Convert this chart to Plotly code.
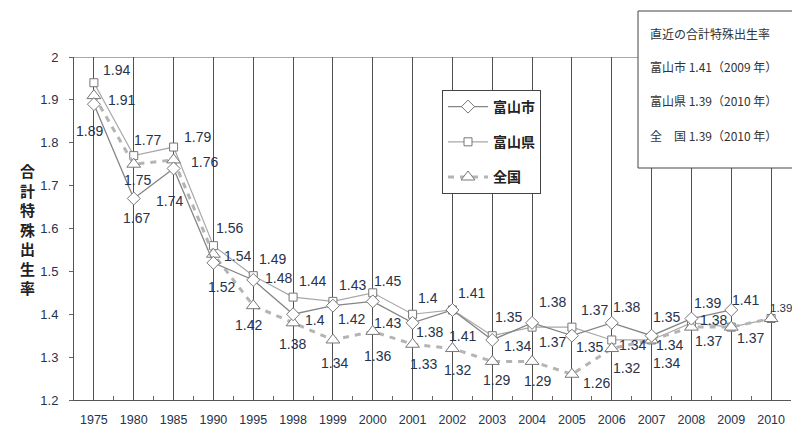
import plotly.graph_objects as go

# Total fertility rate: Toyama City, Toyama Prefecture, Japan
years = ["1975", "1980", "1985", "1990", "1995", "1998", "1999", "2000", "2001",
         "2002", "2003", "2004", "2005", "2006", "2007", "2008", "2009", "2010"]
city = [1.89, 1.67, 1.74, 1.52, 1.48, 1.40, 1.42, 1.43, 1.38,
        1.41, 1.34, 1.38, 1.35, 1.38, 1.35, 1.39, 1.41, None]
pref = [1.94, 1.77, 1.79, 1.56, 1.49, 1.44, 1.43, 1.45, 1.40,
        1.41, 1.35, 1.37, 1.37, 1.34, 1.34, 1.38, 1.37, 1.39]
nation = [1.91, 1.75, 1.76, 1.54, 1.42, 1.38, 1.34, 1.36, 1.33,
          1.32, 1.29, 1.29, 1.26, 1.32, 1.34, 1.37, 1.37, 1.39]

names = ["富山市", "富山県", "全国"]
y_ticks = [1.2, 1.3, 1.4, 1.5, 1.6, 1.7, 1.8, 1.9, 2.0]
info_lines = ["直近の合計特殊出生率",
              "富山市 1.41（2009 年）",
              "富山県 1.39（2010 年）",
              "全　国 1.39（2010 年）"]

# pixel offsets (dx right, dy down) of each value label from its point
city_off = [(-4, 27), (3, 20), (-4, 33), (8, 24), (25, -2), (22, 6), (19, 13), (15, 22), (17, 9),
            (10, 26), (25, 6), (20, -21), (18, 11), (15, -16), (15, -19), (16, -16), (14, -10), None]
pref_off = [(23, -13), (14, -16), (24, -10), (16, -18), (19, -17), (19, -16), (20, -16), (15, -12), (15, -16),
            (19, -17), (16, -19), (20, 15), (23, -17), (21, 5), (18, 5), (22, -3), None, None]
nat_off = [(28, 4), (4, 16), (31, 2), (24, 2), (-5, 19), (-1, 21), (2, 23), (5, 25), (11, 20),
           (5, 21), (4, 19), (5, 20), (25, 9), (15, 19), (15, 23), (17, 14), (19, 11), (10, -11)]

LABEL_COLOR = "#27324d"
NUM_FONT = "Liberation Sans, Arial, sans-serif"
JP_FONT = "Noto Sans CJK JP, sans-serif"

fig = go.Figure()

fig.add_trace(go.Scatter(
    x=years, y=pref, name=names[1], mode="lines+markers",
    line=dict(color="#a8a8a8", width=1.2),
    marker=dict(symbol="square", size=8, color="white", line=dict(color="#777777", width=1)),
    legendgroup="b", legendrank=2))
fig.add_trace(go.Scatter(
    x=years, y=nation, name=names[2], mode="lines+markers",
    line=dict(color="#b4b4b4", width=3, dash="6px,6px"),
    marker=dict(symbol="triangle-up", size=12, color="white", line=dict(color="#777777", width=1)),
    legendgroup="c", legendrank=3))
fig.add_trace(go.Scatter(
    x=years, y=city, name=names[0], mode="lines+markers",
    line=dict(color="#858585", width=1.3),
    marker=dict(symbol="diamond", size=10, color="white", line=dict(color="#777777", width=1)),
    legendgroup="a", legendrank=1))

# invisible trace carrying the boundary tick axis
fig.add_trace(go.Scatter(x=years, y=[None] * len(years), xaxis="x2", showlegend=False,
                         hoverinfo="skip", mode="markers"))

annotations = []
for vals, offs in ((city, city_off), (pref, pref_off), (nation, nat_off)):
    for idx, (yr, v, off) in enumerate(zip(years, vals, offs)):
        if v is None or off is None:
            continue
        size = 11.5 if yr == "2010" else 14
        # category position given by index (numeric-looking strings would be read as indices)
        annotations.append(dict(
            x=idx, y=v, xref="x", yref="y", text=f"{v:g}", showarrow=False,
            xshift=off[0], yshift=-off[1],
            font=dict(family=NUM_FONT, size=size, color=LABEL_COLOR)))

# vertical axis title, one character per line
annotations.append(dict(
    x=-0.078, y=0.5, xref="paper", yref="paper", showarrow=False,
    text="<br>".join("合計特殊出生率"),
    font=dict(family=JP_FONT, size=15, color="#222222", weight="bold")))

# info box text
info_y = [33, 66, 100, 135]
for line, py in zip(info_lines, info_y):
    annotations.append(dict(
        x=(648 - 74) / 717, y=(400 - py) / 343, xref="paper", yref="paper",
        xanchor="left", yanchor="middle", showarrow=False, text=line,
        font=dict(family=JP_FONT, size=12, color="#333333")))

shapes = [
    # top border of the plot
    dict(type="line", xref="paper", yref="y", x0=0, x1=1, y0=2.0, y1=2.0,
         line=dict(color="#555555", width=1), layer="below"),
    # info box
    dict(type="rect", xref="paper", yref="paper",
         x0=(638 - 74) / 717, x1=(800 - 74) / 717,
         y0=(400 - 168) / 343, y1=(400 - 11) / 343,
         fillcolor="white", line=dict(color="#444444", width=1), layer="above"),
]

fig.update_layout(
    width=792, height=430,
    margin=dict(l=74, r=1, t=57, b=30),
    plot_bgcolor="white", paper_bgcolor="white",
    showlegend=True,
    legend=dict(
        x=(442 - 74) / 717, y=(400 - 90) / 343, xanchor="left", yanchor="top",
        bgcolor="white", bordercolor="#444444", borderwidth=1,
        traceorder="grouped", tracegroupgap=14,
        font=dict(family=JP_FONT, size=14, color="#222222", weight="bold"),
        itemwidth=40),
    xaxis=dict(
        type="category", categoryorder="array", categoryarray=years,
        range=[-0.5, len(years) - 0.5],
        showgrid=True, gridcolor="#505050", gridwidth=1,
        showline=True, linecolor="#555555", linewidth=1,
        ticks="", ticklabelstandoff=8,
        tickfont=dict(family=NUM_FONT, size=12.5, color=LABEL_COLOR)),
    xaxis2=dict(
        type="category", categoryorder="array", categoryarray=years,
        range=[-0.5, len(years) - 0.5], overlaying="x", side="bottom", anchor="y",
        tickson="boundaries", ticks="inside", ticklen=4, tickcolor="#666666",
        showgrid=False, showticklabels=False, showline=False),
    yaxis=dict(
        range=[1.2, 2.0], tickvals=y_ticks, ticktext=[f"{t:g}" for t in y_ticks],
        showgrid=False, zeroline=False,
        showline=True, linecolor="#555555", linewidth=1,
        ticks="outside", ticklen=4, tickcolor="#666666", ticklabelstandoff=8,
        tickfont=dict(family=NUM_FONT, size=13, color=LABEL_COLOR)),
    annotations=annotations,
    shapes=shapes,
)

fig.write_html("out.html")
